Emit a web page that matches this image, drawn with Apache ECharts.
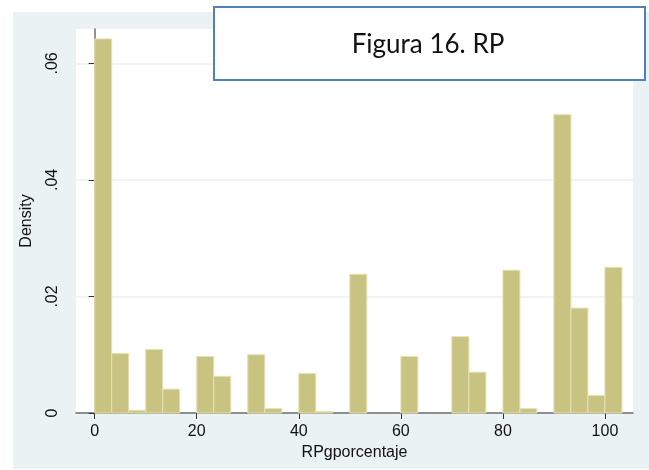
<!DOCTYPE html>
<html>
<head>
    <meta charset="utf-8" />
    <title>Figura 16. RP</title>
    <script src="https://cdn.jsdelivr.net/npm/echarts@6/dist/echarts.min.js"></script>
    <style>
        html, body { margin: 0; padding: 0; background: #fff; }
    </style>
</head>
<body>
    <div id="main" style="width: 649px; height: 470px;"></div>
    <script type="text/javascript">
        // histogram bins (left edge of each bin, width 10/3)
        var binLeft = [0, 3.333, 6.667, 10, 13.333, 16.667, 20, 23.333, 26.667, 30,
            33.333, 36.667, 40, 43.333, 46.667, 50, 53.333, 56.667, 60, 63.333,
            66.667, 70, 73.333, 76.667, 80, 83.333, 86.667, 90, 93.333, 96.667, 100];
        var binWidth = 3.333;
        // density of each bin
        var density = [0.0642, 0.0102, 0.00046, 0.0109, 0.0041, 0, 0.0097, 0.0063, 0, 0.0100,
            0.00075, 0, 0.0068, 0.00025, 0, 0.0238, 0, 0, 0.0097, 0,
            0, 0.0131, 0.0070, 0, 0.0245, 0.00075, 0, 0.0512, 0.0180, 0.0030, 0.0250];
        var xTicks = [0, 20, 40, 60, 80, 100];
        var yTicks = [0, 0.02, 0.04, 0.06];

        var seriesData = [];
        for (var i = 0; i < binLeft.length; i++) {
            seriesData.push([binLeft[i], binLeft[i] + binWidth, density[i]]);
        }

        var myChart = echarts.init(document.getElementById('main'));
        var font = 'Liberation Sans';
        var option = {
            animation: false,
            textStyle: { fontFamily: font },
            grid: {
                left: 76,
                right: 16,
                top: 29,
                bottom: 57,
                show: true,
                backgroundColor: '#fff',
                borderWidth: 0
            },
            xAxis: {
                type: 'value',
                min: -3.66,
                max: 105.5,
                name: 'RPgporcentaje',
                nameLocation: 'middle',
                nameGap: 27,
                nameTextStyle: { fontSize: 16, color: '#111', fontFamily: font },
                axisLine: { lineStyle: { color: '#6e6e6e', width: 1.5 } },
                axisTick: { customValues: xTicks, length: 6, lineStyle: { color: '#333', width: 1 } },
                axisLabel: { customValues: xTicks, fontSize: 16, color: '#111', margin: 11 },
                splitLine: { show: false }
            },
            yAxis: {
                type: 'value',
                min: 0,
                max: 0.0659,
                name: 'Density',
                nameLocation: 'middle',
                nameGap: 41,
                nameTextStyle: { fontSize: 16, color: '#111', fontFamily: font },
                axisLine: { show: true, lineStyle: { color: '#6e6e6e', width: 1.5 } },
                axisTick: { show: true, customValues: yTicks, length: 6, lineStyle: { color: '#333', width: 1 } },
                axisLabel: {
                    customValues: yTicks,
                    rotate: 90,
                    fontSize: 16,
                    color: '#111',
                    margin: 15,
                    formatter: function (v) {
                        if (v === 0) return '0';
                        return String(+v.toFixed(2)).replace(/^0/, '');
                    }
                },
                splitLine: { show: true, lineStyle: { color: '#eaf2f3', width: 1.5 } }
            },
            graphic: [
                {
                    type: 'rect',
                    z: -10,
                    silent: true,
                    shape: { x: 13, y: 12, width: 636, height: 457 },
                    style: { fill: '#eaf2f3' }
                },
                {
                    // caption box over the plot
                    type: 'rect',
                    z: 200,
                    zlevel: 1,
                    shape: { x: 214, y: 7, width: 431, height: 73 },
                    style: { fill: '#fff', stroke: '#4f81bd', lineWidth: 2 }
                },
                {
                    type: 'text',
                    z: 201,
                    zlevel: 1,
                    x: 428,
                    y: 45,
                    style: {
                        text: 'Figura 16. RP',
                        fontFamily: 'Lato',
                        fontSize: 26,
                        fill: '#111',
                        align: 'center',
                        verticalAlign: 'middle'
                    }
                }
            ],
            series: [
                {
                    type: 'custom',
                    data: seriesData,
                    encode: { x: [0, 1], y: 2 },
                    renderItem: function (params, api) {
                        var d = api.value(2);
                        if (!d) return null;
                        var p0 = api.coord([api.value(0), d]);
                        var p1 = api.coord([api.value(1), 0]);
                        return {
                            type: 'rect',
                            shape: { x: p0[0], y: p0[1], width: p1[0] - p0[0], height: p1[1] - p0[1] },
                            style: { fill: '#c9c382', stroke: '#e6e1b4', lineWidth: 1 }
                        };
                    }
                }
            ]
        };
        myChart.setOption(option);
    </script>
</body>
</html>
